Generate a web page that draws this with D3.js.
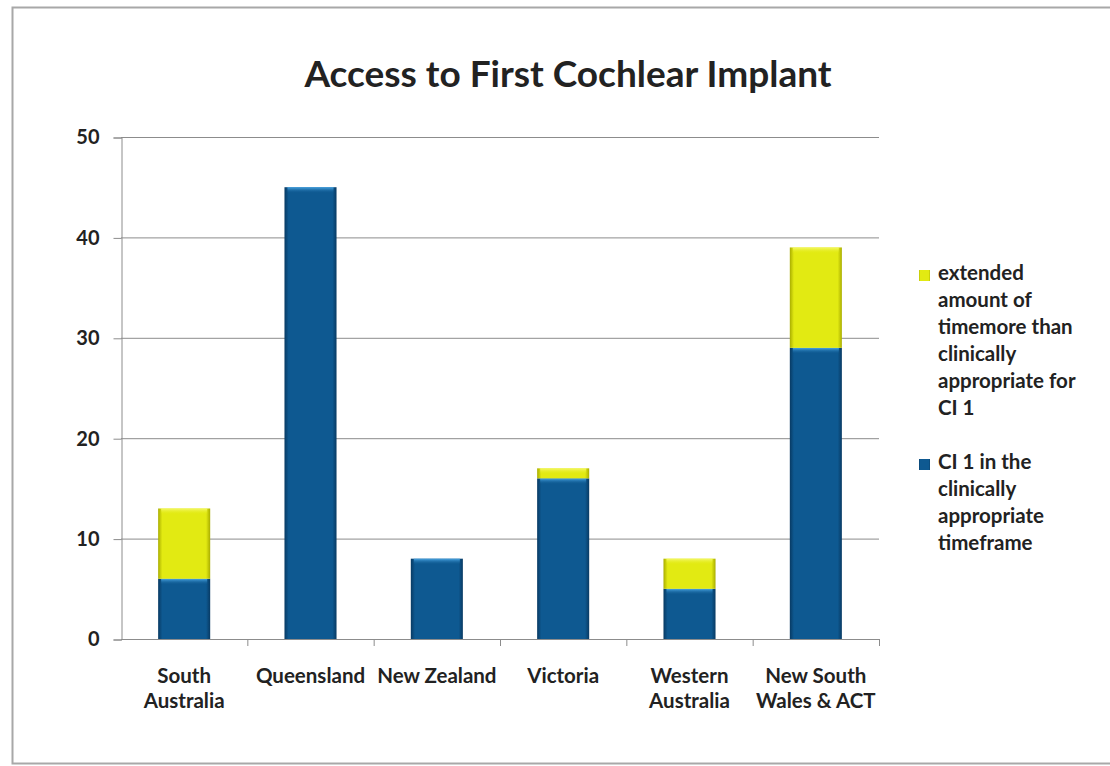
<!DOCTYPE html>
<html>
<head>
<meta charset="utf-8">
<script src="https://cdn.jsdelivr.net/npm/d3@7"></script>
<style>
  body { margin: 0; background: #fff; }
  svg text { font-family: Lato, "Open Sans", sans-serif; font-weight: bold; fill: #222; }
</style>
</head>
<body>
<div id="chart"></div>
<script>
"use strict";
// chart data
const regions = [["South", "Australia"], ["Queensland"], ["New Zealand"], ["Victoria"], ["Western", "Australia"], ["New South", "Wales & ACT"]]
const inTimeframe = [6, 45, 8, 16, 5, 29]
const extendedTime = [7, 0, 0, 1, 3, 10]
const yTicks = [0, 10, 20, 30, 40, 50]
const seriesNames = ["extended amount of timemore than clinically appropriate for CI 1", "CI 1 in the clinically appropriate timeframe"]
const legendLines = [["extended", "amount of", "timemore than", "clinically", "appropriate for", "CI 1"], ["CI 1 in the", "clinically", "appropriate", "timeframe"]]

const size = { width: 1110, height: 766 }
const plot = { left: 121, right: 879, top: 137, bottom: 639 }

const svg = d3.select("#chart").append("svg")
    .attr("width", size.width)
    .attr("height", size.height)

// gradients for the bevelled bars
const defs = svg.append("defs")
function sideGradient(id, edge, mid) {
    const g = defs.append("linearGradient").attr("id", id)
        .attr("x1", "0").attr("x2", "1").attr("y1", "0").attr("y2", "0")
    g.append("stop").attr("offset", "0").attr("stop-color", edge)
    g.append("stop").attr("offset", "0.08").attr("stop-color", mid)
    g.append("stop").attr("offset", "0.92").attr("stop-color", mid)
    g.append("stop").attr("offset", "1").attr("stop-color", edge)
}
sideGradient("blueGrad", "#083a63", "#0e5991")
sideGradient("yellowGrad", "#a9ad00", "#e2ea12")
function topGradient(id, top, bottom) {
    const g = defs.append("linearGradient").attr("id", id)
        .attr("x1", "0").attr("x2", "0").attr("y1", "0").attr("y2", "1")
    g.append("stop").attr("offset", "0").attr("stop-color", top)
    g.append("stop").attr("offset", "1").attr("stop-color", bottom).attr("stop-opacity", 0)
}
topGradient("blueTop", "#4aa6e4", "#0e5991")
topGradient("yellowTop", "#f4f86a", "#e2ea12")

// outer frame
svg.append("rect")
    .attr("x", 12.5).attr("y", 7.5)
    .attr("width", 1110).attr("height", 756)
    .attr("fill", "none")
    .attr("stroke", "#a8a8a8")
    .attr("stroke-width", 2)

const scaleX = d3.scaleBand()
    .domain(d3.range(regions.length))
    .range([plot.left, plot.right])
    .paddingInner(0.588)
    .paddingOuter(0.294)

const scaleY = d3.scaleLinear()
    .domain([0, 50])
    .range([plot.bottom, plot.top])

// gridlines
svg.append("g")
    .selectAll("line")
    .data(yTicks.filter(d => d > 0))
    .enter().append("line")
    .attr("x1", plot.left).attr("x2", plot.right)
    .attr("y1", d => scaleY(d) + 0.5).attr("y2", d => scaleY(d) + 0.5)
    .attr("stroke", "#8c8c8c")

// y axis
const yAxis = d3.axisLeft(scaleY).tickValues(yTicks).tickSize(8).tickPadding(14)
const yG = svg.append("g")
    .attr("transform", "translate(" + (plot.left + 0.5) + ",0.5)")
    .call(yAxis)
yG.selectAll("path, line").attr("stroke", "#8c8c8c")
yG.selectAll("text").style("font-size", "20px").attr("fill", "#222")

// x axis with ticks between categories
const catWidth = (plot.right - plot.left) / regions.length
const xG = svg.append("g")
xG.append("line")
    .attr("x1", plot.left).attr("x2", plot.right)
    .attr("y1", plot.bottom + 0.5).attr("y2", plot.bottom + 0.5)
    .attr("stroke", "#8c8c8c")
xG.selectAll(".xtick")
    .data(d3.range(regions.length + 1).slice(1))
    .enter().append("line")
    .attr("x1", d => plot.left + d * catWidth + 0.5)
    .attr("x2", d => plot.left + d * catWidth + 0.5)
    .attr("y1", plot.bottom).attr("y2", plot.bottom + 7)
    .attr("stroke", "#8c8c8c")
const xLabels = xG.selectAll(".xlabel")
    .data(regions)
    .enter().append("text")
    .attr("text-anchor", "middle")
    .style("font-size", "20.5px")
xLabels.selectAll("tspan")
    .data((d, i) => d.map(line => ({ line: line, i: i })))
    .enter().append("tspan")
    .attr("x", d => scaleX(d.i) + scaleX.bandwidth() / 2)
    .attr("y", (d, j) => 683 + j * 25)
    .text(d => d.line)

// stacked bars
const stackData = regions.map((r, i) => ({ i: i, blue: inTimeframe[i], yellow: extendedTime[i] }))
const stack = d3.stack().keys(["blue", "yellow"])(stackData)
const fills = { blue: ["url(#blueGrad)", "url(#blueTop)"], yellow: ["url(#yellowGrad)", "url(#yellowTop)"] }

stack.forEach(layer => {
    const g = svg.append("g")
    const segs = layer.filter(d => d[1] > d[0])
    g.selectAll("rect.seg")
        .data(segs)
        .enter().append("rect")
        .attr("class", "seg")
        .attr("x", d => scaleX(d.data.i))
        .attr("y", d => scaleY(d[1]))
        .attr("width", scaleX.bandwidth())
        .attr("height", d => scaleY(d[0]) - scaleY(d[1]))
        .attr("fill", fills[layer.key][0])
    g.selectAll("rect.hl")
        .data(segs)
        .enter().append("rect")
        .attr("class", "hl")
        .attr("x", d => scaleX(d.data.i) + 3)
        .attr("y", d => scaleY(d[1]))
        .attr("width", scaleX.bandwidth() - 6)
        .attr("height", 6)
        .attr("fill", fills[layer.key][1])
})

// title
svg.append("text")
    .attr("x", 568)
    .attr("y", 87)
    .attr("text-anchor", "middle")
    .style("font-size", "37px")
    .attr("fill", "#111")
    .text("Access to First Cochlear Implant")

// legend
const legend = svg.selectAll(".legend")
    .data(seriesNames)
    .enter().append("g")
    .attr("class", "legend")
    .attr("transform", (d, i) => "translate(919," + (i === 0 ? 275 : 464) + ")")
legend.append("rect")
    .attr("x", 0).attr("y", -5)
    .attr("width", 11).attr("height", 11)
    .attr("fill", (d, i) => i === 0 ? "url(#yellowGrad)" : "url(#blueGrad)")
legend.append("text")
    .style("font-size", "20.5px")
    .selectAll("tspan")
    .data((d, i) => legendLines[i])
    .enter().append("tspan")
    .attr("x", 19)
    .attr("y", (d, j) => 5 + j * 27)
    .text(d => d)
</script>
</body>
</html>
